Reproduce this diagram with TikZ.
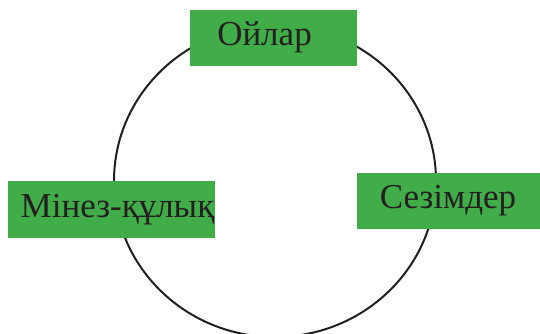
\documentclass[tikz,border=0pt]{standalone}
\usepackage{fontspec}
\setmainfont{Liberation Serif}
\usepackage{tikz}
\usetikzlibrary{positioning}
\definecolor{boxgreen}{RGB}{64,173,73}
\definecolor{inkdark}{RGB}{35,31,32}

\begin{document}
\begin{tikzpicture}[x=1pt, y=-1pt,
		box/.style={fill=boxgreen, draw=none, inner sep=0pt},
		word/.style={anchor=base, text=inkdark, inner sep=0pt, font=\fontsize{35}{40}\selectfont}]
			\useasboundingbox (0,0) rectangle (540,333);
			% cycle
			\draw[color=inkdark, line width=2pt] (275,181) ellipse [x radius=161pt, y radius=156pt];
			% boxes
			\node[box, minimum width=167pt, minimum height=56pt] (thoughts) at (273.5,38) {};
			\node[box, minimum width=183pt, minimum height=56pt] (feelings) at (448.5,201) {};
			\node[box, minimum width=207pt, minimum height=57pt] (behaviour) at (111.5,209.5) {};
			% labels
			\node[word] (thoughts-t) at (264.5,45) {Ойлар};
			\node[word] (feelings-t) at (448,208) {Сезімдер};
			\node[word] (behaviour-t) at (117.5,217) {Мінез-құлық};
			\end{tikzpicture}
\end{document}
